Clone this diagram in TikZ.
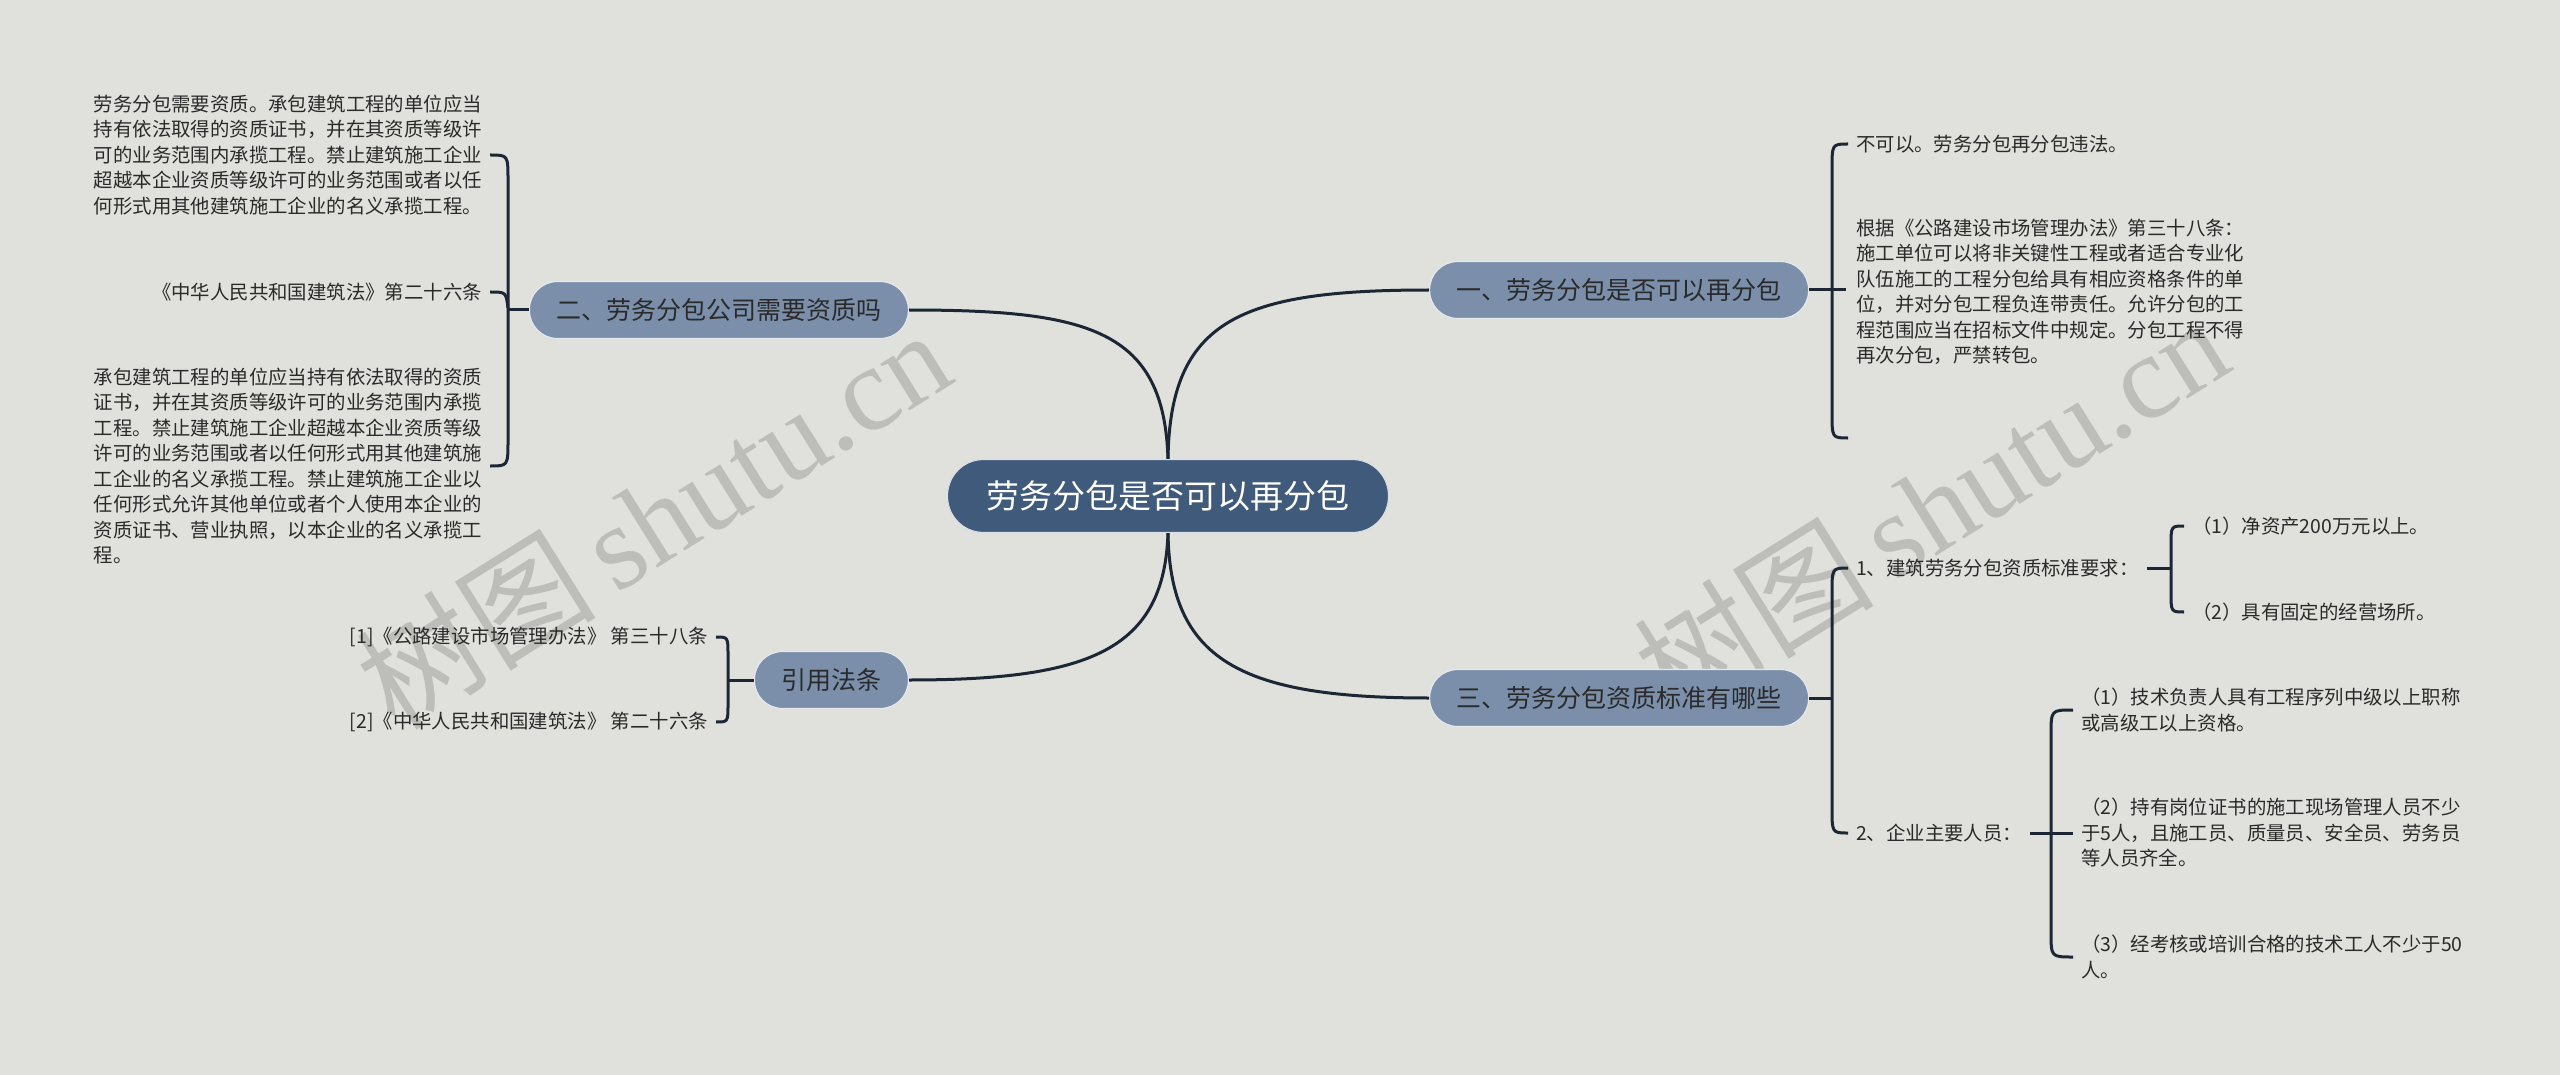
\documentclass[tikz,border=0pt]{standalone}
\usepackage{fontspec}
\setmainfont{Noto Sans CJK SC}
\newfontfamily\wmlatin{Liberation Serif}
\usetikzlibrary{shapes}

\definecolor{bgcol}{HTML}{E0E1DC}
\definecolor{rootcol}{HTML}{3F5A7B}
\definecolor{subcol}{HTML}{7B8FAB}
\definecolor{linecol}{HTML}{1C2634}
\definecolor{txtcol}{HTML}{2A2A2A}
\definecolor{markcol}{HTML}{BDBEBA}

\tikzset{
  rootnode/.style={fill=rootcol, draw=white!80!rootcol, line width=1.2pt, rounded corners=36pt,
    minimum height=73pt, inner xsep=39pt, inner ysep=0pt, text=white, font=\fontsize{33}{33}\selectfont},
  subnode/.style={fill=subcol, draw=white!80!subcol, line width=1.2pt, rounded corners=28pt,
    minimum height=57pt, inner xsep=27pt, inner ysep=0pt, text=txtcol, font=\fontsize{25}{25}\selectfont},
  leaf/.style={inner xsep=8pt, inner ysep=2pt, align=left, text=txtcol, font=\fontsize{19.4}{25.5}\selectfont},
  link/.style={draw=linecol, line width=3pt},
  watermark/.style={text=markcol, rotate=32, inner sep=0pt, font=\fontsize{120}{120}\selectfont}
}

\begin{document}
\begin{tikzpicture}[x=1pt,y=-1pt]
\fill[bgcol] (0,0) rectangle (2560,1075);
\useasboundingbox (0,0) rectangle (2560,1075);

\node[watermark] (wm1) at (653,518) {树图\,{\wmlatin shutu.cn}};
\node[watermark] (wm2) at (1931,506) {树图\,{\wmlatin shutu.cn}};

\node[rootnode] (root) at (1168,496) {劳务分包是否可以再分包};
\node[subnode, anchor=west] (b1) at (1429,290) {一、劳务分包是否可以再分包};
\node[subnode, anchor=east] (b2) at (909,310) {二、劳务分包公司需要资质吗};
\node[subnode, anchor=west] (b3) at (1429,698) {三、劳务分包资质标准有哪些};
\node[subnode, anchor=east] (b4) at (909,680) {引用法条};

\node[leaf, anchor=west] (b1a) at (1848,144) {不可以。劳务分包再分包违法。};
\node[leaf, anchor=west] (b1b) at (1848,292) {根据《公路建设市场管理办法》第三十八条：\\
施工单位可以将非关键性工程或者适合专业化\\
队伍施工的工程分包给具有相应资格条件的单\\
位，并对分包工程负连带责任。允许分包的工\\
程范围应当在招标文件中规定。分包工程不得\\
再次分包，严禁转包。};
\coordinate (b1end) at (1848,438);

\node[leaf, anchor=east] (b2a) at (490,155) {劳务分包需要资质。承包建筑工程的单位应当\\
持有依法取得的资质证书，并在其资质等级许\\
可的业务范围内承揽工程。禁止建筑施工企业\\
超越本企业资质等级许可的业务范围或者以任\\
何形式用其他建筑施工企业的名义承揽工程。};
\node[leaf, anchor=east, align=right] (b2b) at (490,292) {《中华人民共和国建筑法》第二十六条};
\node[leaf, anchor=east] (b2c) at (490,466) {承包建筑工程的单位应当持有依法取得的资质\\
证书，并在其资质等级许可的业务范围内承揽\\
工程。禁止建筑施工企业超越本企业资质等级\\
许可的业务范围或者以任何形式用其他建筑施\\
工企业的名义承揽工程。禁止建筑施工企业以\\
任何形式允许其他单位或者个人使用本企业的\\
资质证书、营业执照，以本企业的名义承揽工\\
程。};

\node[leaf, anchor=east] (b4a) at (716,637) {[1]《公路建设市场管理办法》 第三十八条};
\node[leaf, anchor=east] (b4b) at (716,722) {[2]《中华人民共和国建筑法》 第二十六条};

\node[leaf, anchor=west] (b3a) at (1848,568) {1、建筑劳务分包资质标准要求：};
\node[leaf, anchor=west] (b3b) at (1848,833) {2、企业主要人员：};
\node[leaf, anchor=west] (b3a1) at (2184,526) {（1）净资产200万元以上。};
\node[leaf, anchor=west] (b3a2) at (2184,612) {（2）具有固定的经营场所。};
\node[leaf, anchor=west] (b3b1) at (2073,710) {（1）技术负责人具有工程序列中级以上职称\\
或高级工以上资格。};
\node[leaf, anchor=west] (b3b2) at (2073,833) {（2）持有岗位证书的施工现场管理人员不少\\
于5人，且施工员、质量员、安全员、劳务员\\
等人员齐全。};
\node[leaf, anchor=west] (b3b3) at (2073,957) {（3）经考核或培训合格的技术工人不少于50\\
人。};

% main branches
\draw[link] (root.north) .. controls (1170,320) and (1240,290) .. (b1.west);
\draw[link] (root.north) .. controls (1164,330) and (1090,310) .. (b2.east);
\draw[link] (root.south) .. controls (1170,660) and (1240,698) .. (b3.west);
\draw[link] (root.south) .. controls (1164,650) and (1090,680) .. (b4.east);

% brackets
\draw[link] (b1.east) -- (1846,290);
\draw[link] (b1a.west) .. controls (1832,144) .. (1832,170) -- (1832,412) .. controls (1832,438) .. (b1end);

\draw[link] (b2.west) -- (508,310);
\draw[link] (b2a.east) .. controls (508,155) .. (508,180) -- (508,440) .. controls (508,466) .. (b2c.east);
\draw[link] (b2b.east) .. controls (506,292) .. (508,308);

\draw[link] (b4.west) -- (728,680);
\draw[link] (b4a.east) .. controls (728,637) .. (728,655) -- (728,704) .. controls (728,722) .. (b4b.east);

\draw[link] (b3.east) -- (1832,698);
\draw[link] (b3a.west) .. controls (1832,568) .. (1832,594) -- (1832,807) .. controls (1832,833) .. (b3b.west);
\draw[link] (b3a.east) -- (2171,568);
\draw[link] (b3a1.west) .. controls (2171,526) .. (2171,546) -- (2171,592) .. controls (2171,612) .. (b3a2.west);
\draw[link] (b3b.east) -- (b3b2.west);
\draw[link] (b3b1.west) .. controls (2051,710) .. (2051,735) -- (2051,932) .. controls (2051,957) .. (b3b3.west);
\end{tikzpicture}
\end{document}
